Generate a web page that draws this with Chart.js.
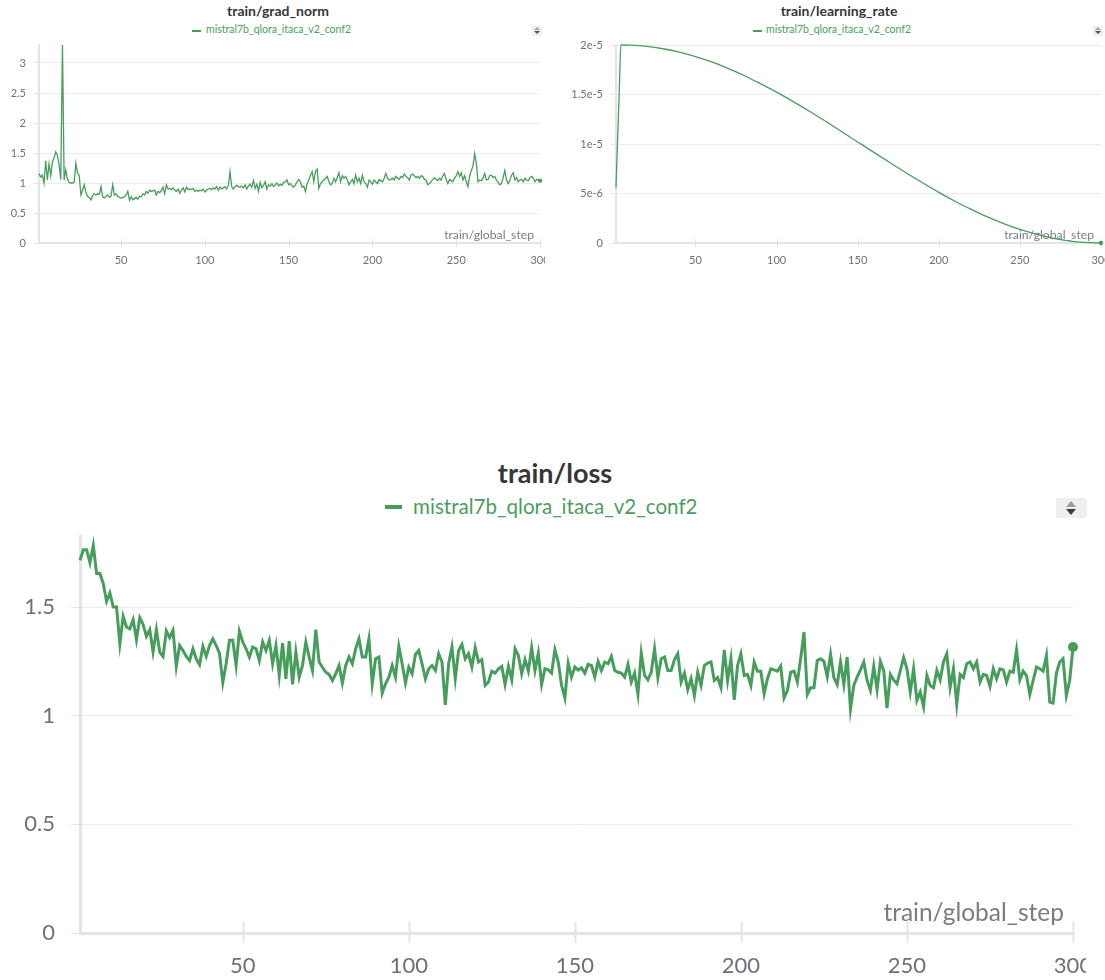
<!DOCTYPE html>
<html>
<head>
<meta charset="utf-8">
<script src="https://cdn.jsdelivr.net/npm/chart.js@4.4.1/dist/chart.umd.min.js"></script>
<style>
  html, body { margin: 0; padding: 0; background: #fff; width: 1105px; height: 980px; overflow: hidden; font-family: Lato, "Noto Sans", sans-serif; }
  .clip { position: absolute; overflow: hidden; }
  canvas { display: block; }
  .title { position: absolute; font-weight: 700; color: #363636; white-space: nowrap; line-height: 1.2; }
  .legend { position: absolute; color: #4a9e5f; white-space: nowrap; line-height: 1.2; }
  .dash { position: absolute; background: #479d5c; }
  .sort { position: absolute; background: #efefef; border-radius: 2px; }
  .up, .down { position: absolute; width: 0; height: 0; border-left-style: solid; border-right-style: solid; border-left-color: transparent; border-right-color: transparent; }
</style>
</head>
<body>

<!-- top-left panel -->
<div class="title" style="left:180px; width:196px; text-align:center; top:3px; font-size:14px;">train/grad_norm</div>
<div class="dash" style="left:192px; top:30px; width:9px; height:2px;"></div>
<div class="legend" style="left:206px; top:23px; font-size:10.5px;">mistral7b_qlora_itaca_v2_conf2</div>
<div class="sort" style="left:532px; top:26px; width:10px; height:10px;">
  <div class="up" style="left:2px; top:1px; border-left-width:3px; border-right-width:3px; border-bottom:3px solid #a5a5a5;"></div>
  <div class="down" style="left:2px; top:5px; border-left-width:3px; border-right-width:3px; border-top:3px solid #555;"></div>
</div>
<div class="clip" style="left:0; top:0; width:545px; height:280px;">
  <canvas id="gn" width="560" height="280" style="width:560px;height:280px;"></canvas>
</div>

<!-- top-right panel -->
<div class="title" style="left:739px; width:200px; text-align:center; top:3px; font-size:14px;">train/learning_rate</div>
<div class="dash" style="left:753px; top:30px; width:9px; height:2px;"></div>
<div class="legend" style="left:766px; top:23px; font-size:10.5px;">mistral7b_qlora_itaca_v2_conf2</div>
<div class="sort" style="left:1093px; top:26px; width:10px; height:10px;">
  <div class="up" style="left:2px; top:1px; border-left-width:3px; border-right-width:3px; border-bottom:3px solid #a5a5a5;"></div>
  <div class="down" style="left:2px; top:5px; border-left-width:3px; border-right-width:3px; border-top:3px solid #555;"></div>
</div>
<div class="clip" style="left:550px; top:0; width:555px; height:280px;">
  <canvas id="lr" width="555" height="280" style="width:555px;height:280px;"></canvas>
</div>

<!-- bottom panel -->
<div class="title" style="left:405px; width:300px; text-align:center; top:457px; font-size:27px;">train/loss</div>
<div class="dash" style="left:385px; top:505px; width:17px; height:4px;"></div>
<div class="legend" style="left:413px; top:494px; font-size:20.6px;">mistral7b_qlora_itaca_v2_conf2</div>
<div class="sort" style="left:1056px; top:498px; width:31px; height:20px;">
  <div class="up" style="left:10px; top:3px; border-left-width:5px; border-right-width:5px; border-bottom:6px solid #9c9c9c;"></div>
  <div class="down" style="left:10px; top:11px; border-left-width:5px; border-right-width:5px; border-top:6px solid #3c3c3c;"></div>
</div>
<div class="clip" style="left:0; top:530px; width:1086px; height:450px;">
  <canvas id="loss" width="1105" height="450" style="width:1105px;height:450px;"></canvas>
</div>

<script>
// ---------------- data ----------------
const xTickValues = [50, 100, 150, 200, 250, 300];

const gradNormTicks = [0, 0.5, 1, 1.5, 2, 2.5, 3];
const gradNormTickLabels = ['0', '0.5', '1', '1.5', '2', '2.5', '3'];

const lrTicks = [0, 5e-6, 1e-5, 1.5e-5, 2e-5];
const lrTickLabels = ['0', '5e-6', '1e-5', '1.5e-5', '2e-5'];

const lossTicks = [0, 0.5, 1, 1.5];
const lossTickLabels = ['0', '0.5', '1', '1.5'];

// train/grad_norm, steps 1..300
const gradNorm = [
  1.16, 1.10, 1.13, 1.00, 1.37, 1.05, 1.32, 1.12, 1.35, 1.42,
  1.52, 1.46, 1.30, 1.06, 3.30, 1.05, 1.22, 1.06, 1.01, 1.00,
  1.00, 1.01, 1.33, 1.17, 1.12, 0.80, 0.88, 0.97, 0.84, 0.78,
  0.76, 0.72, 0.79, 0.82, 0.80, 0.82, 0.81, 0.94, 0.77, 0.75,
  0.78, 0.80, 0.76, 0.78, 0.97, 0.80, 0.82, 0.78, 0.76, 0.75,
  0.76, 0.77, 0.80, 0.86, 0.71, 0.77, 0.72, 0.74, 0.76, 0.73,
  0.78, 0.77, 0.82, 0.80, 0.86, 0.83, 0.88, 0.86, 0.87, 0.88,
  0.80, 0.86, 0.84, 0.87, 0.93, 0.82, 0.97, 0.90, 0.91, 0.89,
  0.92, 0.88, 0.86, 0.90, 0.83, 0.88, 0.92, 0.85, 0.93, 0.89,
  0.90, 0.89, 0.91, 0.86, 0.88, 0.86, 0.88, 0.87, 0.90, 0.85,
  0.88, 0.90, 0.91, 0.89, 0.92, 0.90, 0.94, 0.88, 0.93, 0.90,
  0.92, 0.94, 0.90, 0.96, 1.19, 0.94, 0.90, 0.94, 0.96, 0.94,
  0.93, 0.95, 0.92, 0.97, 0.90, 0.95, 0.98, 0.93, 1.04, 0.91,
  0.98, 0.86, 1.01, 0.92, 0.96, 1.02, 0.90, 0.97, 0.95, 0.99,
  0.94, 0.97, 1.00, 0.95, 0.98, 0.96, 1.01, 1.02, 1.05, 0.97,
  0.99, 0.95, 0.93, 0.97, 1.02, 1.06, 1.02, 0.93, 0.95, 0.86,
  0.99, 1.05, 1.13, 1.19, 1.02, 1.19, 1.23, 0.91, 0.99, 1.02,
  1.05, 1.08, 1.11, 1.02, 0.97, 0.99, 1.08, 1.02, 1.09, 1.17,
  1.02, 1.12, 1.08, 1.11, 1.05, 0.97, 1.02, 1.06, 0.99, 1.13,
  1.02, 1.08, 0.99, 1.13, 1.02, 0.99, 0.93, 1.05, 1.02, 0.98,
  1.05, 1.02, 0.99, 1.06, 1.04, 1.02, 1.08, 1.16, 1.08, 1.05,
  1.06, 1.08, 1.05, 1.11, 1.08, 1.06, 1.11, 1.09, 1.15, 1.11,
  1.09, 1.05, 1.13, 1.15, 1.12, 1.09, 1.11, 1.08, 1.12, 1.11,
  1.06, 1.05, 0.97, 0.99, 1.02, 1.06, 1.09, 1.06, 1.04, 1.08,
  1.05, 1.12, 1.16, 1.06, 0.99, 1.06, 1.04, 1.02, 1.08, 1.12,
  1.19, 1.11, 1.17, 1.05, 1.12, 1.02, 0.94, 1.11, 1.21, 1.28,
  1.49, 1.33, 1.02, 1.05, 1.04, 1.08, 1.16, 1.05, 1.06, 1.12,
  1.13, 1.09, 1.11, 1.05, 1.01, 0.97, 0.99, 1.09, 1.21, 1.05,
  0.99, 1.04, 1.13, 1.17, 1.05, 1.09, 1.02, 1.05, 1.06, 1.02,
  1.08, 1.05, 1.04, 1.09, 1.11, 1.08, 1.02, 1.06, 1.05, 1.04
];

// train/learning_rate, read at these steps
const lrSteps = [1, 2, 3, 4, 10, 20, 30, 40, 50, 60, 70, 80, 90, 100, 110, 120, 130, 140, 150,
  160, 170, 180, 190, 200, 210, 220, 230, 240, 250, 260, 270, 280, 290, 300];
const lrValues = [5.6e-6, 1.05e-5, 1.53e-5, 2.0e-5, 1.998e-5, 1.986e-5, 1.962e-5, 1.928e-5, 1.883e-5,
  1.829e-5, 1.764e-5, 1.692e-5, 1.610e-5, 1.524e-5, 1.431e-5, 1.334e-5, 1.232e-5, 1.127e-5, 1.021e-5,
  9.15e-6, 8.10e-6, 7.07e-6, 6.08e-6, 5.12e-6, 4.22e-6, 3.40e-6, 2.63e-6, 1.96e-6, 1.37e-6,
  8.9e-7, 5.0e-7, 2.2e-7, 6e-8, 0];

// train/loss, steps 1..300
const loss = [
  1.715, 1.764, 1.764, 1.704, 1.784, 1.654, 1.654, 1.608, 1.526, 1.565,
  1.50, 1.50, 1.331, 1.457, 1.408, 1.40, 1.442, 1.35, 1.451, 1.42,
  1.365, 1.396, 1.293, 1.396, 1.293, 1.273, 1.39, 1.359, 1.393, 1.227,
  1.323, 1.30, 1.273, 1.254, 1.308, 1.262, 1.235, 1.319, 1.273, 1.323,
  1.354, 1.323, 1.288, 1.153, 1.239, 1.347, 1.347, 1.231, 1.388, 1.339,
  1.308, 1.27, 1.316, 1.308, 1.254, 1.339, 1.30, 1.347, 1.239, 1.323,
  1.185, 1.334, 1.17, 1.343, 1.144, 1.293, 1.177, 1.231, 1.339, 1.27,
  1.208, 1.396, 1.247, 1.223, 1.20, 1.19, 1.162, 1.193, 1.231, 1.15,
  1.231, 1.27, 1.239, 1.308, 1.354, 1.27, 1.27, 1.354, 1.147, 1.262,
  1.27, 1.104, 1.147, 1.177, 1.231, 1.177, 1.319, 1.239, 1.15, 1.223,
  1.193, 1.282, 1.30, 1.239, 1.17, 1.216, 1.231, 1.208, 1.285, 1.247,
  1.05, 1.239, 1.316, 1.17, 1.30, 1.328, 1.262, 1.285, 1.224, 1.313,
  1.247, 1.258, 1.14, 1.155, 1.205, 1.196, 1.216, 1.227, 1.144, 1.227,
  1.165, 1.308, 1.277, 1.193, 1.258, 1.205, 1.313, 1.208, 1.288, 1.144,
  1.216, 1.211, 1.196, 1.303, 1.247, 1.14, 1.082, 1.242, 1.178, 1.224,
  1.21, 1.22, 1.196, 1.236, 1.231, 1.178, 1.25, 1.208, 1.247, 1.239,
  1.273, 1.208, 1.2, 1.196, 1.178, 1.236, 1.155, 1.196, 1.098, 1.288,
  1.185, 1.165, 1.2, 1.308, 1.175, 1.262, 1.27, 1.208, 1.208, 1.258,
  1.285, 1.155, 1.196, 1.12, 1.17, 1.093, 1.2, 1.14, 1.231, 1.242,
  1.247, 1.162, 1.175, 1.129, 1.303, 1.162, 1.262, 1.073, 1.231, 1.285,
  1.185, 1.19, 1.139, 1.247, 1.205, 1.205, 1.101, 1.17, 1.216, 1.211,
  1.205, 1.228, 1.082, 1.116, 1.2, 1.205, 1.155, 1.262, 1.385, 1.098,
  1.129, 1.129, 1.254, 1.262, 1.25, 1.18, 1.282, 1.175, 1.144, 1.247,
  1.144, 1.27, 1.03, 1.139, 1.178, 1.211, 1.247, 1.162, 1.116, 1.227,
  1.12, 1.25, 1.208, 1.035, 1.19, 1.165, 1.147, 1.208, 1.267, 1.216,
  1.109, 1.216, 1.07, 1.109, 1.042, 1.185, 1.139, 1.129, 1.208, 1.165,
  1.247, 1.285, 1.129, 1.216, 1.052, 1.19, 1.175, 1.239, 1.247, 1.216,
  1.247, 1.155, 1.19, 1.185, 1.135, 1.216, 1.17, 1.216, 1.211, 1.155,
  1.205, 1.2, 1.303, 1.165, 1.205, 1.185, 1.098, 1.162, 1.224, 1.216,
  1.205, 1.277, 1.063, 1.058, 1.196, 1.247, 1.262, 1.093, 1.162, 1.316
];

// ---------------- drawing ----------------
const GREEN = '#479d5c';
const FONT = 'Lato, "Noto Sans", sans-serif';

const stepAxisPlugin = {
  id: 'stepAxis',
  beforeDatasetsDraw(chart, args, o) {
    const { ctx, chartArea, scales: { x } } = chart;
    ctx.save();
    ctx.strokeStyle = o.tickColor;
    ctx.lineWidth = o.tickWidth;
    x.ticks.forEach(t => {
      const px = Math.round(x.getPixelForValue(t.value)) + 0.5;
      ctx.beginPath();
      ctx.moveTo(px, chartArea.bottom - o.tickUp);
      ctx.lineTo(px, chartArea.bottom + o.tickDown);
      ctx.stroke();
    });
    ctx.font = o.font;
    ctx.fillStyle = o.color;
    ctx.textAlign = 'right';
    ctx.textBaseline = 'alphabetic';
    ctx.fillText(o.text, chartArea.right - o.dx, chartArea.bottom - o.dy);
    ctx.restore();
  }
};

function makeChart(id, cfg) {
  const last = cfg.points.length - 1;
  return new Chart(document.getElementById(id), {
    type: 'line',
    data: {
      datasets: [{
        data: cfg.points,
        borderColor: GREEN,
        backgroundColor: GREEN,
        borderWidth: cfg.lineWidth,
        pointRadius: c => (c.dataIndex === last ? cfg.endRadius : 0),
        pointHoverRadius: 0,
        pointBorderWidth: 0,
        tension: 0,
        cubicInterpolationMode: cfg.monotone ? 'monotone' : 'default',
        clip: 6
      }]
    },
    options: {
      responsive: false,
      animation: false,
      devicePixelRatio: 1,
      layout: { padding: { top: cfg.padTop, right: cfg.padRight, left: 0, bottom: 0 } },
      plugins: {
        legend: { display: false },
        title: { display: false },
        tooltip: { enabled: false },
        stepAxis: {
          text: 'train/global_step',
          font: cfg.labelFont + 'px ' + FONT,
          color: '#7b7b84',
          dx: cfg.labelDx, dy: cfg.labelDy,
          tickColor: '#e4e4e4', tickWidth: cfg.xTickWidth,
          tickUp: cfg.xTickUp, tickDown: cfg.xTickDown
        }
      },
      scales: {
        x: {
          type: 'linear',
          min: 1, max: 300,
          afterBuildTicks: s => { s.ticks = xTickValues.map(v => ({ value: v })); },
          afterFit: s => { s.paddingLeft = 0; s.paddingRight = 0; s.height = cfg.xHeight; },
          grid: { display: true, drawOnChartArea: false, drawTicks: false, color: 'rgba(0,0,0,0)' },
          border: { display: true, color: '#e4e4e4', width: cfg.borderWidth },
          ticks: {
            maxRotation: 0, autoSkip: false,
            padding: cfg.xPad,
            color: '#6f6f7a',
            font: { family: FONT, size: cfg.tickFont },
            callback: v => String(v)
          }
        },
        y: {
          type: 'linear',
          min: 0, max: cfg.yMax,
          afterBuildTicks: s => { s.ticks = cfg.yTicks.map(v => ({ value: v })); },
          afterFit: s => { s.width = cfg.yWidth; s.paddingTop = 0; s.paddingBottom = 0; },
          grid: { color: '#ececec', lineWidth: 1, tickLength: cfg.yTickLen, tickColor: '#e4e4e4', drawTicks: true },
          border: { display: true, color: '#e4e4e4', width: cfg.borderWidth },
          ticks: {
            padding: cfg.yPad,
            color: '#6f6f7a',
            font: { family: FONT, size: cfg.tickFont },
            callback: v => {
              const i = cfg.yTicks.findIndex(t => Math.abs(t - v) < 1e-12);
              return i >= 0 ? cfg.yTickLabels[i] : '';
            }
          }
        }
      }
    },
    plugins: [stepAxisPlugin]
  });
}

makeChart('gn', {
  points: gradNorm.map((v, i) => ({ x: i + 1, y: v })),
  yMax: 3.3, yTicks: gradNormTicks, yTickLabels: gradNormTickLabels,
  lineWidth: 1.3, endRadius: 2.2,
  padTop: 45, padRight: 20, yWidth: 39, xHeight: 37,
  tickFont: 11, labelFont: 12.2, xPad: 11, yPad: 8, yTickLen: 5,
  borderWidth: 2, xTickUp: 4, xTickDown: 5, xTickWidth: 1,
  labelDx: 6, labelDy: 4
});

makeChart('lr', {
  points: lrSteps.map((s, i) => ({ x: s, y: lrValues[i] })),
  monotone: true,
  yMax: 2e-5, yTicks: lrTicks, yTickLabels: lrTickLabels,
  lineWidth: 1.3, endRadius: 2.2,
  padTop: 45, padRight: 4, yWidth: 66, xHeight: 37,
  tickFont: 11, labelFont: 12.2, xPad: 11, yPad: 8, yTickLen: 5,
  borderWidth: 2, xTickUp: 4, xTickDown: 5, xTickWidth: 1,
  labelDx: 7, labelDy: 4
});

makeChart('loss', {
  points: loss.map((v, i) => ({ x: i + 1, y: v })),
  yMax: 1.827, yTicks: lossTicks, yTickLabels: lossTickLabels,
  lineWidth: 3, endRadius: 5,
  padTop: 6, padRight: 32, yWidth: 80, xHeight: 47,
  tickFont: 22, labelFont: 24.5, xPad: 20, yPad: 16, yTickLen: 9,
  borderWidth: 3, xTickUp: 11, xTickDown: 10, xTickWidth: 2,
  labelDx: 9, labelDy: 12
});
</script>
</body>
</html>
